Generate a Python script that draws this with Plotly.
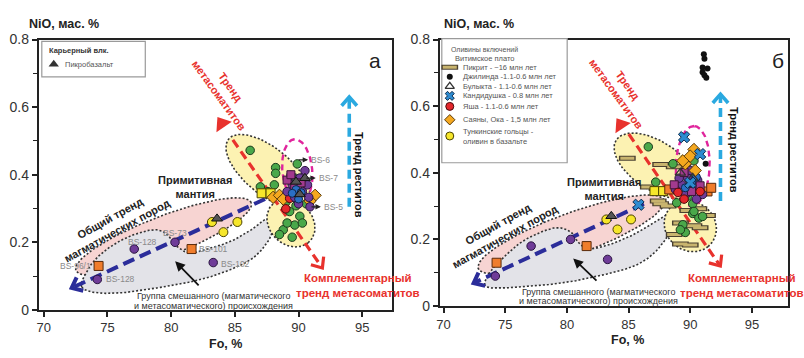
import numpy as np
import plotly.graph_objects as go

W, H = 804, 358
FONT = "Liberation Sans, Arial, sans-serif"
Y_RANGE = [0.0, 0.8]
Y_TICKS = [0, 0.2, 0.4, 0.6, 0.8]
Y_TICKTEXT = ["0", "0.2", "0.4", "0.6", "0.8"]
X_TICKS = [70, 75, 80, 85, 90, 95]

# ===== olivine analyses: Fo, %  /  NiO, mas. % =====
# low-Fo olivines shown on both diagrams
low_purple_fo = [74.2, 77.1, 80.3, 83.3]
low_purple_ni = [0.09, 0.18, 0.20, 0.14]
low_orange_fo = [74.3, 81.6]
low_orange_ni = [0.13, 0.18]
tunka_fo = [83.2, 84.1, 85.2]
tunka_ni = [0.26, 0.23, 0.26]
mantle_sq_fo = [87.1, 87.8]
mantle_sq_ni = [0.345, 0.345]
picro_low_fo = [83.6]
picro_low_ni = [0.27]

# diagram "а" (Карьерный вулкан)
a_green_fo = [86.2, 88.2, 89.9, 89.7, 88.2, 87.0, 87.6, 88.1, 89.5, 89.8,
              89.3, 90.1, 89.7, 88.8, 88.5, 90.3, 89.0, 90.6, 89.1, 89.5]
a_green_ni = [0.472, 0.421, 0.432, 0.390, 0.404, 0.364, 0.350, 0.370, 0.333, 0.308,
              0.291, 0.277, 0.251, 0.237, 0.223, 0.257, 0.319, 0.314, 0.257, 0.215]
a_purple_fo = [89.5, 90.1, 90.3, 89.7, 90.7, 89.1, 90.0, 90.8, 89.4, 90.5, 90.9]
a_purple_ni = [0.370, 0.390, 0.350, 0.333, 0.370, 0.350, 0.314, 0.333, 0.398, 0.412, 0.305]
a_magenta_fo = [89.1, 89.7, 90.2, 89.4]
a_magenta_ni = [0.384, 0.364, 0.376, 0.400]
a_orange_fo = [88.0, 88.5, 91.3, 90.9, 88.8]
a_orange_ni = [0.333, 0.339, 0.339, 0.322, 0.328]
a_blue_fo = [89.8, 90.2, 89.5, 90.0]
a_blue_ni = [0.356, 0.347, 0.345, 0.328]
a_red_fo = [89.0, 89.3]
a_red_ni = [0.299, 0.330]
a_picro_fo = [90.5, 89.8, 90.1]
a_picro_ni = [0.390, 0.379, 0.342]

# diagram "б" (Витимское плато, Саяны, Тунка)
b_green_fo = [86.6, 88.6, 87.2, 90.3, 89.8, 90.2, 90.0, 89.8, 90.2, 90.2,
              90.7, 89.4, 89.6, 90.3, 91.0, 89.2, 88.9]
b_green_ni = [0.478, 0.427, 0.372, 0.436, 0.330, 0.393, 0.370, 0.341, 0.307, 0.278,
              0.264, 0.244, 0.221, 0.284, 0.269, 0.229, 0.310]
b_picrite_fo = [84.9, 87.6, 88.7, 86.6, 87.4, 89.8, 90.7, 89.2, 90.3, 88.7,
                89.2, 87.6, 91.4, 90.8, 90.0, 88.2]
b_picrite_ni = [0.444, 0.425, 0.418, 0.357, 0.315, 0.287, 0.292, 0.249, 0.241, 0.215,
                0.186, 0.307, 0.272, 0.235, 0.183, 0.300]
b_purple_fo = [89.8, 89.3, 90.2, 90.6, 89.6, 88.8, 91.0, 90.0, 90.5, 89.1]
b_purple_ni = [0.384, 0.364, 0.355, 0.378, 0.335, 0.350, 0.335, 0.407, 0.321, 0.384]
b_magenta_fo = [89.5, 88.7, 90.1, 90.8]
b_magenta_ni = [0.401, 0.364, 0.344, 0.361]
b_blue_fo = [90.1, 89.6, 90.5]
b_blue_ni = [0.370, 0.355, 0.387]
b_orange_fo = [91.4, 91.7, 88.3]
b_orange_ni = [0.344, 0.355, 0.350]
b_yasha_fo = [89.0, 90.8, 89.5]
b_yasha_ni = [0.341, 0.344, 0.321]
b_bulykta_fo = [89.2, 90.2]
b_bulykta_ni = [0.400, 0.385]
b_sayany_fo = [90.3, 89.6, 89.4, 90.0, 90.4]
b_sayany_ni = [0.470, 0.427, 0.436, 0.450, 0.407]
b_kand_fo = [89.5, 90.8, 85.8, 90.0]
b_kand_ni = [0.507, 0.456, 0.304, 0.370]
b_dzhil_fo = [91.1, 91.15, 91.0, 91.4, 91.0, 91.15, 91.3, 91.25]
b_dzhil_ni = [0.756, 0.742, 0.716, 0.713, 0.702, 0.693, 0.685, 0.427]

# ===== marker styles =====
def mk(symbol, color, size=9, lc="#222", lw=1.0):
    return dict(symbol=symbol, color=color, size=size, line=dict(color=lc, width=lw))

ST = {
    "green": mk("circle", "#4aa84a", 8.5, "#1d3a1d"),
    "purple": mk("circle", "#6f3c98", 8.5, "#2a1540"),
    "magenta": mk("square", "#a23a8e", 8, "#3a1535"),
    "orange_sq": mk("square", "#f07d2c", 9, "#5a2a0a"),
    "orange_dm": mk("diamond", "#f5a81f", 9.5, "#5a3a0a"),
    "yellow": mk("circle", "#f6e62b", 9, "#4a4200"),
    "yellow_sq": mk("square", "#f6e62b", 9, "#4a4200"),
    "blue": mk("circle", "#2a6fc4", 8, "#10264a"),
    "red": mk("circle", "#e3262b", 8.5, "#4a0a0a"),
    "picro": mk("triangle-up", "#555555", 9.5, "#111"),
    "bulykta": dict(symbol="triangle-up-open", size=9, color="#333", line=dict(width=1.3)),
    "kand": mk("x", "#2d8bd0", 10, "#0d2a4a"),
    "black": dict(symbol="circle", size=6, color="#111"),
}
BAR_OUT = dict(symbol="line-ew", size=12, line=dict(color="#4a4030", width=5))
BAR_IN = dict(symbol="line-ew", size=10, line=dict(color="#c8b46e", width=3))

# ===== panel geometry (pixels of the page) =====
PA = dict(x0=35, x1=390, top=33, bot=316, xr=[69.61, 97.34], ax=("x", "y"))
PB = dict(x0=438, x1=788, top=33, bot=312, xr=[69.7, 97.93], ax=("x2", "y2"))


def scale(p):
    pf = (p["x1"] - p["x0"]) / (p["xr"][1] - p["xr"][0])
    pn = (p["bot"] - p["top"]) / (Y_RANGE[1] - Y_RANGE[0])
    return pf, pn


fig = go.Figure()


def pts(p, fo, ni, style, **kw):
    fig.add_trace(go.Scatter(x=fo, y=ni, mode="markers", marker=style,
                             xaxis=p["ax"][0], yaxis=p["ax"][1],
                             hoverinfo="skip", showlegend=False, **kw))


def curve(p, xs, ys, color, width, dash="solid", fill=None):
    fig.add_trace(go.Scatter(x=xs, y=ys, mode="lines",
                             line=dict(color=color, width=width, dash=dash),
                             fill="toself" if fill else None, fillcolor=fill,
                             xaxis=p["ax"][0], yaxis=p["ax"][1],
                             hoverinfo="skip", showlegend=False))


def ellipse(p, cx, cy, a_px, b_px, ang, n=120):
    pf, pn = scale(p)
    t = np.linspace(0, 2 * np.pi, n)
    th = np.radians(ang)
    dx = a_px * np.cos(t) * np.cos(th) - b_px * np.sin(t) * np.sin(th)
    dy = a_px * np.cos(t) * np.sin(th) + b_px * np.sin(t) * np.cos(th)
    return cx + dx / pf, cy + dy / pn


def smooth_closed(p, xs, ys, n=14):
    pf, pn = scale(p)
    P = np.column_stack([np.asarray(xs) * pf, np.asarray(ys) * pn])
    m = len(P)
    t = np.linspace(0, 1, n, endpoint=False)[:, None]
    segs = []
    for i in range(m):
        p0, p1, p2, p3 = P[(i - 1) % m], P[i], P[(i + 1) % m], P[(i + 2) % m]
        segs.append(0.5 * (2 * p1 + (-p0 + p2) * t + (2 * p0 - 5 * p1 + 4 * p2 - p3) * t ** 2
                           + (-p0 + 3 * p1 - 3 * p2 + p3) * t ** 3))
    out = np.vstack(segs + [segs[0][:1]])
    return out[:, 0] / pf, out[:, 1] / pn


def chevron(p, start, end, size=11, spread=40):
    pf, pn = scale(p)
    ang = np.arctan2((end[1] - start[1]) * pn, (end[0] - start[0]) * pf)
    xs, ys = [], []
    for s in (1, 0, -1):
        if s == 0:
            xs.append(end[0]); ys.append(end[1]); continue
        a = ang + np.pi + s * np.radians(spread)
        xs.append(end[0] + size * np.cos(a) / pf)
        ys.append(end[1] + size * np.sin(a) / pn)
    return xs, ys


def trend(p, start, end, color, width, dash, head=True, size=11):
    curve(p, [start[0], end[0]], [start[1], end[1]], color, width, dash)
    if head:
        hx, hy = chevron(p, start, end, size)
        curve(p, hx, hy, color, width)


def head_angle(p, start, end):
    pf, pn = scale(p)
    return float(np.degrees(np.arctan2((end[0] - start[0]) * pf, (end[1] - start[1]) * pn)))


YELLOW, PINK, GREY = "#fcf2b2", "#f7d4d2", "#e3e3e8"
BORDER = dict(color="#333333", width=1.6, dash="2px,2px")
RED, NAVY, CYAN, MAG = "#e8322d", "#2b2d9a", "#2aa9e0", "#e0259c"

# outlines of the compositional fields
fields = {
    "a": dict(
        pink=(79.4, 0.217, 95, 21, 22),
        yel_up=(87.6, 0.410, 52, 24, -41),
        yel_low=(89.4, 0.257, 27, 22, -50),
        mag=(89.9, 0.412, 33, 15, 95),
        grey_fo=[72.97, 73.28, 74.06, 75.31, 76.88, 78.59, 79.61, 80.31, 81.41, 82.89,
                 84.69, 86.41, 87.34, 87.97, 87.66, 86.41, 84.45, 82.11, 79.38, 76.25, 74.06],
        grey_ni=[0.068, 0.107, 0.150, 0.189, 0.220, 0.237, 0.226, 0.192, 0.169, 0.181,
                 0.203, 0.240, 0.266, 0.249, 0.206, 0.153, 0.116, 0.088, 0.068, 0.051, 0.051],
    ),
    "b": dict(
        pink=(80.35, 0.215, 100, 22, 21),
        yel_up=(87.2, 0.421, 48, 25, -35),
        yel_low=(90.0, 0.240, 28, 25, -50),
        mag=(90.2, 0.420, 42, 17, 88),
        grey_fo=[73.33, 73.73, 74.70, 76.31, 78.17, 79.38, 80.35, 80.91, 81.72, 83.33,
                 85.43, 87.36, 88.01, 88.57, 88.25, 87.04, 85.43, 82.77, 79.54, 76.07, 74.14],
        grey_ni=[0.063, 0.100, 0.140, 0.192, 0.226, 0.235, 0.221, 0.192, 0.172, 0.183,
                 0.215, 0.258, 0.272, 0.255, 0.215, 0.158, 0.120, 0.092, 0.069, 0.057, 0.054],
    ),
}

# trend arrows: (start, end)
trends = {
    "a": dict(meta=((84.84, 0.503), (91.87, 0.124)), meta_tip=(83.98, 0.551),
              restite=((93.98, 0.305), (93.98, 0.630)),
              magm=((87.37, 0.328), (72.19, 0.065)),
              mixed_ptr=((82.27, 0.068), (80.31, 0.144))),
    "b": dict(meta=((85.02, 0.516), (92.44, 0.120)), meta_tip=(84.38, 0.544),
              restite=((92.45, 0.315), (92.45, 0.636)),
              magm=((86.24, 0.307), (72.44, 0.069)),
              mixed_ptr=((82.52, 0.072), (80.51, 0.143))),
}


def draw_fields(p, f):
    xs, ys = ellipse(p, *f["pink"])
    curve(p, xs, ys, BORDER["color"], BORDER["width"], BORDER["dash"], PINK)
    gx, gy = smooth_closed(p, f["grey_fo"], f["grey_ni"])
    curve(p, gx, gy, BORDER["color"], BORDER["width"], BORDER["dash"], GREY)
    for key in ("yel_up", "yel_low"):
        xs, ys = ellipse(p, *f[key])
        curve(p, xs, ys, BORDER["color"], BORDER["width"], BORDER["dash"], YELLOW)


def draw_trends(p, t, f):
    trend(p, *t["magm"], NAVY, 4, "12px,6px", size=12)
    trend(p, *t["meta"], RED, 3.2, "9px,5px", size=12)
    trend(p, *t["restite"], CYAN, 3.6, "9px,5px", size=12)
    xs, ys = ellipse(p, *f["mag"])
    curve(p, xs, ys, MAG, 2.4, "6px,4px")
    s, e = t["meta"]
    pts(p, [t["meta_tip"][0]], [t["meta_tip"][1]],
        dict(symbol="triangle-up", size=16, color=RED, angle=head_angle(p, e, s)))


def draw_low(p):
    pts(p, low_purple_fo, low_purple_ni, ST["purple"])
    pts(p, low_orange_fo, low_orange_ni, ST["orange_sq"])
    pts(p, tunka_fo, tunka_ni, ST["yellow"])
    pts(p, picro_low_fo, picro_low_ni, ST["picro"])
    pts(p, mantle_sq_fo, mantle_sq_ni, ST["yellow_sq"])


# ---------------- diagram а ----------------
draw_fields(PA, fields["a"])
draw_trends(PA, trends["a"], fields["a"])
pts(PA, a_green_fo, a_green_ni, ST["green"])
draw_low(PA)
pts(PA, a_orange_fo, a_orange_ni, ST["orange_dm"])
pts(PA, a_red_fo, a_red_ni, ST["red"])
pts(PA, a_purple_fo, a_purple_ni, ST["purple"])
pts(PA, a_magenta_fo, a_magenta_ni, ST["magenta"])
pts(PA, a_blue_fo, a_blue_ni, ST["blue"])
pts(PA, a_picro_fo, a_picro_ni, ST["picro"])

# ---------------- diagram б ----------------
draw_fields(PB, fields["b"])
draw_trends(PB, trends["b"], fields["b"])
pts(PB, b_picrite_fo, b_picrite_ni, BAR_OUT)
pts(PB, b_picrite_fo, b_picrite_ni, BAR_IN)
pts(PB, b_green_fo, b_green_ni, ST["green"])
draw_low(PB)
pts(PB, b_orange_fo, b_orange_ni, ST["orange_sq"])
pts(PB, b_purple_fo, b_purple_ni, ST["purple"])
pts(PB, b_magenta_fo, b_magenta_ni, ST["magenta"])
pts(PB, b_yasha_fo, b_yasha_ni, ST["red"])
pts(PB, b_blue_fo, b_blue_ni, ST["blue"])
pts(PB, b_sayany_fo, b_sayany_ni, ST["orange_dm"])
pts(PB, b_bulykta_fo, b_bulykta_ni, ST["bulykta"])
pts(PB, b_kand_fo, b_kand_ni, ST["kand"])
pts(PB, b_dzhil_fo, b_dzhil_ni, ST["black"])

# ---------------- legends (page pixel coordinates) ----------------
LEG = ("x3", "y3")


def leg_marker(x, y, style):
    fig.add_trace(go.Scatter(x=[x], y=[y], mode="markers", marker=style,
                             xaxis=LEG[0], yaxis=LEG[1], hoverinfo="skip", showlegend=False))


annotations = []


def text(x, y, s, ref, size=11, color="#111", bold=False, angle=0, xanchor="center", **kw):
    annotations.append(dict(x=x, y=y, xref=ref[0], yref=ref[1], text=f"<b>{s}</b>" if bold else s,
                            showarrow=False, textangle=angle, xanchor=xanchor, yanchor="middle",
                            font=dict(family=FONT, size=size, color=color), **kw))


shapes = [
    dict(type="rect", xref="x3", yref="y3", x0=38, y0=35, x1=142, y1=72,
         line=dict(color="#9a9a9a", width=1.2), fillcolor="white", layer="below"),
    dict(type="rect", xref="x3", yref="y3", x0=440, y0=32, x1=566, y1=162,
         line=dict(color="#9a9a9a", width=1.2), fillcolor="white", layer="below"),
]

text(75, 44, "Карьерный влк.", LEG, 7.5, "#333", bold=True)
leg_marker(50, 59, dict(symbol="triangle-up", size=9, color="#333"))
text(59, 59, "Пикробазальт", LEG, 7.5, "#555", xanchor="left")

text(483, 43, "Оливины включений", LEG, 7, "#555")
text(483, 53, "Витимское плато", LEG, 7.5, "#555")
legend_b = [
    ("bar", "Пикрит - ~16 млн лет", 62),
    ("black", "Джилинда -1.1-0.6 млн лет", 72),
    ("bulykta", "Булыкта - 1.1-0.6 млн лет", 82),
    ("kand", "Кандидушка - 0.8 млн лет", 92),
    ("red", "Яша - 1.1-0.6 млн лет", 103),
    ("orange_dm", "Саяны, Ока - 1,5 млн лет", 117),
    ("yellow", "Тункинские гольцы -<br>оливин в базальте", 134),
]
for key, label, ypx in legend_b:
    if key == "bar":
        leg_marker(448, ypx, BAR_OUT)
        leg_marker(448, ypx, BAR_IN)
    else:
        st = dict(ST[key])
        st["size"] = min(st["size"], 8)
        leg_marker(448, ypx, st)
    text(459, ypx, label, LEG, 7.5, "#555", xanchor="left", align="left")

# ---------------- labels inside the diagrams ----------------
for p, t, lab in ((PA, trends["a"], "а"), (PB, trends["b"], "б")):
    ref = p["ax"]
    if p is PA:
        pos = dict(meta=(84.2, 0.647), rest=(94.8, 0.400), mant=(81.9, 0.364),
                   gen=(75.5, 0.255), mix=(83.36, 0.040, 0.011), comp=(94.7, 0.072), lab=(96.0, 0.737))
    else:
        pos = dict(meta=(84.5, 0.648), rest=(93.5, 0.467), mant=(83.0, 0.352),
                   gen=(74.7, 0.229), mix=(82.53, 0.043, 0.014), comp=(94.2, 0.063), lab=(97.1, 0.736))
    text(*pos["meta"], "Тренд<br>метасоматитов", ref, 11, RED, bold=True, angle=54)
    text(*pos["rest"], "Тренд реститов", ref, 11, "#111", bold=True, angle=90)
    text(*pos["mant"], "Примитивная<br>мантия", ref, 11, "#222", bold=True)
    text(*pos["gen"], "Общий тренд<br>магматических пород", ref, 11, "#222", bold=True, angle=-29)
    text(pos["mix"][0], pos["mix"][1], "Группа смешанного (магматического", ref, 9, "#333")
    text(pos["mix"][0], pos["mix"][2], "и метасоматического) происхождения", ref, 9, "#333")
    text(*pos["comp"], "Комплементарный<br>тренд метасоматитов", ref, 11.5, RED, bold=True)
    text(*pos["lab"], lab, ref, 21, "#222")
    tail, tip = t["mixed_ptr"]
    annotations.append(dict(x=tip[0], y=tip[1], ax=tail[0], ay=tail[1], xref=ref[0], yref=ref[1],
                            axref=ref[0], ayref=ref[1], text="", showarrow=True, arrowhead=2,
                            arrowsize=1.1, arrowwidth=1.8, arrowcolor="#111"))

# sample numbers on diagram а
GREYTXT = "#8a8a8a"
low_labels = [
    ("BS-96/1", low_orange_fo[0], low_orange_ni[0], "right", -6, 0),
    ("BS-128", low_purple_fo[0], low_purple_ni[0], "left", 7, 0),
    ("BS-128", low_purple_fo[1], low_purple_ni[1], "left", -8, 7),
    ("BS-73", low_purple_fo[2], low_purple_ni[2], "center", 0, 9),
    ("BS-101", low_orange_fo[1], low_orange_ni[1], "left", 5, 0),
    ("BS-102", low_purple_fo[3], low_purple_ni[3], "left", 6, -1),
]
for s, fo, ni, xa, xs, ys in low_labels:
    text(fo, ni, s, PA["ax"], 8.5, GREYTXT, xanchor=xa, xshift=xs, yshift=ys)

bs_labels = [
    ("BS-6", a_green_fo[2], a_green_ni[2] + 0.012),
    ("BS-7", a_picro_fo[0], a_picro_ni[0]),
    ("BS-5", a_purple_fo[10], a_purple_ni[10]),
]
for s, fo, ni in bs_labels:
    annotations.append(dict(x=fo + 0.85, y=ni, ax=fo, ay=ni, xref="x", yref="y", axref="x", ayref="y",
                            text="", showarrow=True, arrowhead=2, arrowsize=0.9, arrowwidth=1.2,
                            arrowcolor="#222"))
    text(fo + 0.95, ni, s, PA["ax"], 8.5, GREYTXT, xanchor="left")

# axis titles and panel letters
for px, py, s in ((60, 17, "NiO, мас. %"), (477, 17, "NiO, мас. %"),
                  (223, 352, "Fo, %"), (627, 348, "Fo, %")):
    annotations.append(dict(x=px / W, y=1 - py / H, xref="paper", yref="paper", text=f"<b>{s}</b>",
                            xanchor="center", yanchor="middle", showarrow=False,
                            font=dict(family=FONT, size=12.5, color="#222")))

# ---------------- axes ----------------
def xaxis(p):
    return dict(domain=[p["x0"] / W, p["x1"] / W], range=p["xr"], tickvals=X_TICKS,
                ticks="outside", ticklen=5, tickwidth=1.5, tickcolor="#222",
                showline=True, mirror=True, linewidth=2, linecolor="#222",
                showgrid=False, zeroline=False, fixedrange=True,
                tickfont=dict(family=FONT, size=13, color="#333"))


def yaxis(p, anchor):
    return dict(domain=[1 - p["bot"] / H, 1 - p["top"] / H], range=Y_RANGE, tickvals=Y_TICKS,
                ticktext=Y_TICKTEXT, ticks="outside", ticklen=5, tickwidth=1.5, tickcolor="#222",
                minor=dict(tickvals=[0.1, 0.3, 0.5, 0.7], ticks="outside", ticklen=4,
                           tickwidth=1.2, tickcolor="#222"),
                showline=True, mirror=True, linewidth=2, linecolor="#222", anchor=anchor,
                showgrid=False, zeroline=False, fixedrange=True,
                tickfont=dict(family=FONT, size=14, color="#333"))


fig.update_layout(
    width=W, height=H, margin=dict(l=0, r=0, t=0, b=0),
    paper_bgcolor="white", plot_bgcolor="rgba(0,0,0,0)",
    font=dict(family=FONT),
    xaxis=dict(xaxis(PA), anchor="y"),
    yaxis=yaxis(PA, "x"),
    xaxis2=dict(xaxis(PB), anchor="y2"),
    yaxis2=yaxis(PB, "x2"),
    xaxis3=dict(domain=[0, 1], range=[0, W], visible=False, fixedrange=True, anchor="y3"),
    yaxis3=dict(domain=[0, 1], range=[H, 0], visible=False, fixedrange=True, anchor="x3"),
    annotations=annotations,
    shapes=shapes,
    showlegend=False,
)

fig.write_html("out.html")
